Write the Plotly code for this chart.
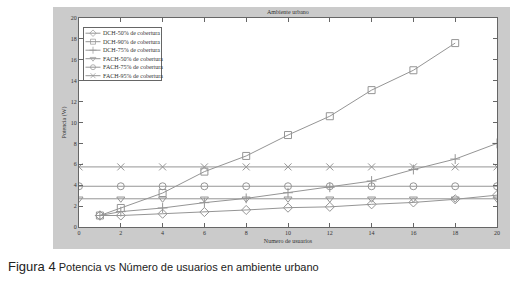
import plotly.graph_objects as go

# Data
x_dch = [1, 2, 4, 6, 8, 10, 12, 14, 16, 18, 20]
dch50 = [1.1, 1.1, 1.27, 1.43, 1.63, 1.85, 1.93, 2.17, 2.35, 2.65, 3.05]
x_dch90 = [1, 2, 4, 6, 8, 10, 12, 14, 16, 18]
dch90 = [1.1, 1.82, 3.25, 5.3, 6.8, 8.8, 10.6, 13.1, 15.0, 17.6]
dch75 = [1.1, 1.47, 1.82, 2.33, 2.74, 3.28, 3.8, 4.4, 5.5, 6.5, 8.0]
x_fach = [0, 2, 4, 6, 8, 10, 12, 14, 16, 18, 20]
fach50 = [2.7] * 11
fach75 = [3.9] * 11
fach95 = [5.75] * 11

names = ["DCH-50% de cobertura", "DCH-90% de cobertura", "DCH-75% de cobertura",
         "FACH-50% de cobertura", "FACH-75% de cobertura", "FACH-95% de cobertura"]
xticks = list(range(0, 21, 2))
yticks = list(range(0, 21, 2))

W, H = 519, 283
L, R, T, B = 79, 497, 18, 227

symbols = ["diamond-open", "square-open", "cross-thin-open",
           "triangle-down-open", "circle-open", "x-thin-open"]
series = [(x_dch, dch50), (x_dch90, dch90), (x_dch, dch75),
          (x_fach, fach50), (x_fach, fach75), (x_fach, fach95)]
lc = "#959595"
txtc = "#333333"
serif = "Liberation Serif"

fig = go.Figure()
for (xs, ys), sym, nm in zip(series, symbols, names):
    fig.add_trace(go.Scatter(
        x=xs, y=ys, name=nm, mode="lines+markers", showlegend=False, hoverinfo="skip",
        line=dict(color=lc, width=1),
        marker=dict(symbol=sym, size=7, color=lc, line=dict(color=lc, width=1)),
    ))

pw, ph = R - L, B - T
def px_x(v):
    return (v - L) / pw
def px_y(v):
    return (B - v) / ph

# Manual legend box (pixel geometry)
LG_L, LG_R, LG_T, LG_B = 84, 161, 28, 80
row0, rowh = 5.2, 8.5
for i, (sym, nm) in enumerate(zip(symbols, names)):
    yy = row0 + rowh * i
    fig.add_trace(go.Scatter(
        x=[1.5, 9, 16.5], y=[yy, yy, yy], xaxis="x2", yaxis="y2", mode="lines+markers",
        showlegend=False, hoverinfo="skip",
        line=dict(color=lc, width=1),
        marker=dict(symbol=sym, size=[0, 5, 0], color=lc, line=dict(color=lc, width=1)),
    ))

annotations = [
    dict(text="Ambiente urbano", xref="paper", yref="paper", x=0.5, y=px_y(12),
         showarrow=False, xanchor="center", yanchor="middle",
         font=dict(family=serif, size=6, color=txtc)),
    dict(text="<span style='font-size:13px'>Figura 4</span> Potencia vs Número de usuarios en ambiente urbano",
         xref="paper", yref="paper", x=px_x(6), y=px_y(266),
         showarrow=False, xanchor="left", yanchor="middle",
         font=dict(family="Liberation Sans", size=11, color="#222222")),
]
for i, nm in enumerate(names):
    annotations.append(dict(text=nm, xref="x2", yref="y2", x=17.5, y=row0 + rowh * i,
                            showarrow=False, xanchor="left", yanchor="middle",
                            font=dict(family=serif, size=6, color=txtc), borderpad=0))

shapes = [
    dict(type="rect", xref="paper", yref="paper",
         x0=px_x(53), x1=px_x(510), y0=px_y(249), y1=px_y(7),
         fillcolor="#cbcbcb", line=dict(width=0), layer="below"),
    dict(type="rect", xref="paper", yref="paper", x0=0, x1=1, y0=0, y1=1,
         fillcolor="white", line=dict(width=0), layer="below"),
]

axis_common = dict(
    showgrid=False, zeroline=False, showline=True, mirror="ticks",
    linecolor="#666666", linewidth=1, ticks="inside", ticklen=4,
    tickcolor="#666666", tickfont=dict(family=serif, size=6, color=txtc),
)
fig.update_layout(
    width=W, height=H,
    margin=dict(l=L, r=W - R, t=T, b=H - B, pad=0),
    paper_bgcolor="white", plot_bgcolor="white",
    showlegend=False,
    xaxis=dict(range=[0, 20], tickvals=xticks, ticktext=[str(v) for v in xticks],
               title=dict(text="Numero de usuarios", font=dict(family=serif, size=6, color=txtc), standoff=3),
               **axis_common),
    yaxis=dict(range=[0, 20], tickvals=yticks, ticktext=[str(v) for v in yticks],
               title=dict(text="Potencia (W)", font=dict(family=serif, size=6, color=txtc), standoff=3),
               **axis_common),
    xaxis2=dict(domain=[px_x(LG_L), px_x(LG_R)], range=[0, LG_R - LG_L], anchor="y2",
                showgrid=False, zeroline=False, showticklabels=False, ticks="",
                showline=True, mirror=True, linecolor="#666666", linewidth=1, fixedrange=True),
    yaxis2=dict(domain=[px_y(LG_B), px_y(LG_T)], range=[LG_B - LG_T, 0], anchor="x2",
                showgrid=False, zeroline=False, showticklabels=False, ticks="",
                showline=True, mirror=True, linecolor="#666666", linewidth=1, fixedrange=True),
    annotations=annotations,
    shapes=shapes,
)
fig.write_html("out.html", config={"displayModeBar": False},
               post_script="document.body.style.margin='0';")
